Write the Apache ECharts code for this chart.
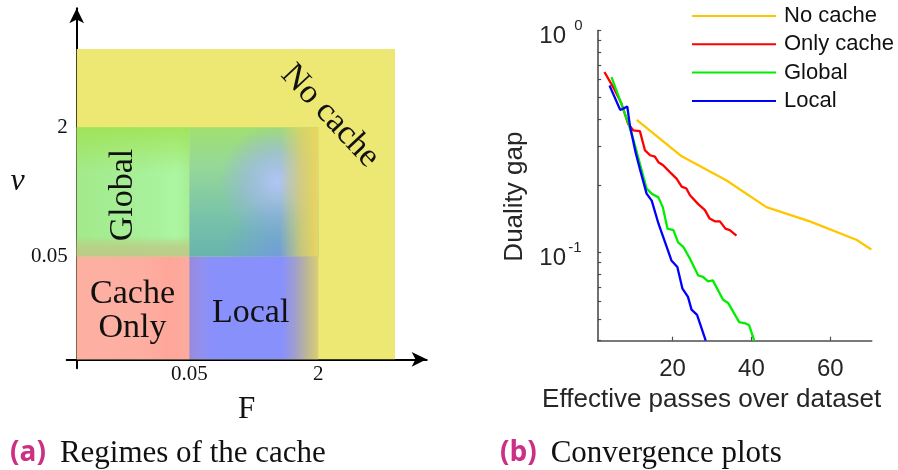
<!DOCTYPE html>
<html><head><meta charset="utf-8">
<script src="https://cdn.jsdelivr.net/npm/echarts@6/dist/echarts.min.js"></script>
<style>html,body{margin:0;padding:0;background:#fff}#c{width:898px;height:470px}</style>
</head><body><div id="c"></div>
<script>
// ---------- panel (a): regimes of the cache (schematic units) ----------
const regionNames = ['No cache', 'Global', 'Global+Local', 'Cache Only', 'Local'];
const regionF  = [[0, 318.3], [0, 112.6], [112.6, 241.6], [0, 112.6], [112.6, 241.6]];
const regionNu = [[0, 310.3], [102.6, 232], [102.6, 232], [0, 102.6], [0, 102.6]];
const fTickPos = [112.6, 241.6];
const fTickLabels = ['0.05', '2'];
const nuTickPos = [102.6, 232];
const nuTickLabels = ['0.05', '2'];

// ---------- panel (b): convergence plots ----------
const seriesNames = ['No cache', 'Only cache', 'Global', 'Local'];
const noCacheGap = [[10.9,0.396],[22.3,0.271],[33.7,0.211],[43.8,0.160],[54.8,0.138],[66.6,0.114],[70.4,0.103]];
const onlyCacheGap = [[2.7,0.65],[5.0,0.553],[7.0,0.47],[8.7,0.38],[10.0,0.355],[11.7,0.352],[13.0,0.288],[14.3,0.274],[15.5,0.27],[16.4,0.255],[17.6,0.247],[19.3,0.23],[21.0,0.215],[22.3,0.198],[23.5,0.194],[24.4,0.181],[26.5,0.165],[28.2,0.155],[29.4,0.142],[30.7,0.138],[32.0,0.138],[33.4,0.128],[34.5,0.126],[36.2,0.119]];
const globalGap = [[4.5,0.616],[7.0,0.467],[8.7,0.386],[10.0,0.325],[11.7,0.251],[13.4,0.194],[14.7,0.184],[16.4,0.177],[17.5,0.16],[18.7,0.128],[20.2,0.126],[21.4,0.111],[22.7,0.106],[24.4,0.0937],[26.5,0.0787],[27.7,0.0775],[29.0,0.074],[30.2,0.0748],[32.8,0.0612],[34.1,0.0591],[36.9,0.0485],[38.7,0.0477],[39.4,0.047],[40.7,0.04]];
const localGap = [[4.0,0.565],[6.7,0.439],[7.3,0.443],[8.5,0.455],[9.2,0.37],[10.6,0.283],[11.7,0.238],[13.4,0.184],[14.7,0.171],[16.4,0.135],[18.5,0.106],[19.7,0.092],[21.2,0.0859],[22.5,0.0686],[23.9,0.063],[24.8,0.0552],[26.2,0.0523],[27.1,0.0469],[28.4,0.04]];
const seriesColors = ['#ffc600', '#ff0000', '#00ee00', '#0000ff'];
const xTickVals = [20, 40, 60];
const yLabelVals = [0.1, 1];
const yTickVals = [0.04,0.05,0.06,0.07,0.08,0.09,0.1,0.2,0.3,0.4,0.5,0.6,0.7,0.8,0.9,1];

// ---------- styles ----------
const lin = (x, y, x2, y2, stops) => ({type:'linear', x, y, x2, y2, global:false, colorStops: stops.map(s => ({offset:s[0], color:s[1]}))});
const rad = (x, y, r, stops) => ({type:'radial', x, y, r, global:false, colorStops: stops.map(s => ({offset:s[0], color:s[1]}))});
const serif = '"Liberation Serif", "Times New Roman", serif';
const sans = '"Liberation Sans", Arial, sans-serif';
const regionStyle = {
  'No cache': {
    layers: ['#ede874'],
    label: {text: 'No cache', fx: 0.796, fy: 0.784, rot: -47}
  },
  'Global': {
    layers: [
      lin(0,0,1,0, [[0,'#a2ea8a'],[0.6,'#a8f09a'],[0.88,'#acf6a2'],[1,'#a6ee96']]),
      lin(0,0,0,1, [[0,'rgba(160,226,80,0.85)'],[0.35,'rgba(160,226,80,0)'],[0.84,'rgba(184,204,130,0)'],[0.92,'rgba(186,206,134,0.85)'],[1,'rgba(190,200,136,0.95)']])
    ],
    label: {text: 'Global', fx: 0.414, fy: 0.477, rot: 90}
  },
  'Global+Local': {
    layers: [
      lin(0,0,0,1, [[0,'#a0e070'],[0.3,'#96d898'],[0.7,'#78c2aa'],[1,'#68b4ac']]),
      rad(0.68, 0.42, 0.45, [[0,'rgba(180,196,250,0.95)'],[0.5,'rgba(160,180,240,0.6)'],[1,'rgba(150,170,230,0)']]),
      rad(0.7, 1.0, 0.45, [[0,'rgba(118,148,240,0.7)'],[1,'rgba(118,148,240,0)']]),
      lin(0,0,1,0, [[0,'rgba(232,212,100,0)'],[0.7,'rgba(232,212,100,0)'],[0.87,'rgba(230,208,100,0.75)'],[1,'rgba(234,214,96,1)']])
    ]
  },
  'Cache Only': {
    layers: [lin(0,0,1,0, [[0,'#fdb0a2'],[0.6,'#fdaea0'],[0.82,'#fea69a'],[1,'#fdab9f']])],
    label: {text: 'Cache\nOnly', fx: 0.496, fy: 0.466, rot: 0}
  },
  'Local': {
    layers: [lin(0,0,1,0, [[0,'#9a88da'],[0.08,'#9290ee'],[0.18,'#8890fc'],[0.72,'#8890fc'],[0.82,'#a09ecc'],[0.91,'#bcb698'],[1,'#d8ce76']])],
    label: {text: 'Local', fx: 0.476, fy: 0.448, rot: 0}
  }
};

function renderRegion(params, api) {
  const name = regionNames[params.dataIndex];
  const st = regionStyle[name];
  const p0 = api.coord([api.value(0), api.value(3)]);
  const p1 = api.coord([api.value(1), api.value(2)]);
  const w = p1[0] - p0[0], h = p1[1] - p0[1];
  const children = st.layers.map(f => ({type:'rect', shape:{x:p0[0], y:p0[1], width:w, height:h}, style:{fill:f}, z2: params.dataIndex}));
  if (st.label) {
    children.push({
      type:'text', x: p0[0] + w * st.label.fx, y: p0[1] + h * (1 - st.label.fy),
      rotation: st.label.rot * Math.PI / 180, z2: 100,
      style:{text: st.label.text, font: '34px ' + serif, fill:'#111', align:'center', verticalAlign:'middle', lineHeight: 34}
    });
  }
  return {type:'group', children};
}

const nearestLabel = (pos, labels, v) => {
  let bi = 0;
  pos.forEach((p, i) => { if (Math.abs(p - v) < Math.abs(pos[bi] - v)) bi = i; });
  return labels[bi];
};

const chart = echarts.init(document.getElementById('c'), null, {renderer:'canvas'});
const lineData = [noCacheGap, onlyCacheGap, globalGap, localGap];
const capRich = {a: {fontFamily: '"Open Sans", sans-serif', fontWeight: 'bold', fontSize: 28, color: '#cc2f86', padding: [0, 14, 0, 0]},
                 t: {fontFamily: serif, fontWeight: 'normal', fontSize: 31, color: '#111'}};
const logAxisBase = {gridIndex: 1, type: 'log', logBase: 10, min: 0.04, max: 1, splitLine: {show: false}, minorTick: {show: false}};

const option = {
  animation: false,
  backgroundColor: '#fff',
  title: [
    {text: '{a|(a)}{t|Regimes of the cache}', left: 10, top: 438, padding: 0, textStyle: {fontWeight: 'normal', rich: capRich}},
    {text: '{a|(b)}{t|Convergence plots}', left: 500, top: 438, padding: 0, textStyle: {fontWeight: 'normal', rich: capRich}}
  ],
  legend: {
    data: seriesNames, orient: 'vertical', left: 691, top: 5, padding: 0, itemWidth: 84, itemHeight: 12, itemGap: 6.3,
    itemStyle: {opacity: 0},
    textStyle: {fontFamily: sans, fontSize: 22, color: '#111', lineHeight: 22, padding: [0, 0, 0, 3]},
    selectedMode: false
  },
  grid: [
    {left: 66.7, top: 8.3, width: 360, height: 360},
    {left: 597.7, top: 30.5, width: 274, height: 310.2}
  ],
  xAxis: [
    {gridIndex: 0, type: 'value', min: -10, max: 350,
     axisLine: {onZero: true, symbol: ['none', 'arrow'], symbolSize: [11, 15], lineStyle: {color: '#000', width: 2}},
     axisTick: {show: false}, splitLine: {show: false},
     axisLabel: {customValues: fTickPos, formatter: v => nearestLabel(fTickPos, fTickLabels, v), fontFamily: serif, fontSize: 21, color: '#111', margin: -4},
     name: 'F', nameLocation: 'middle', nameGap: 26, nameTextStyle: {fontFamily: serif, fontSize: 31, color: '#111'}},
    {gridIndex: 1, type: 'value', min: 1, max: 70.5,
     axisLine: {onZero: false, lineStyle: {color: '#4d4d4d', width: 1.6}},
     axisTick: {customValues: xTickVals, inside: true, length: 4, lineStyle: {color: '#4d4d4d', width: 1.2}},
     splitLine: {show: false},
     axisLabel: {customValues: xTickVals, fontFamily: sans, fontSize: 24, color: '#262626', margin: 17},
     name: 'Effective passes over dataset', nameLocation: 'middle', nameGap: 46,
     nameTextStyle: {fontFamily: sans, fontSize: 26, color: '#262626', padding: [0, 46, 0, 0]}}
  ],
  yAxis: [
    {gridIndex: 0, type: 'value', min: -9, max: 351,
     axisLine: {onZero: true, symbol: ['none', 'arrow'], symbolSize: [11, 15], lineStyle: {color: '#000', width: 2}},
     axisTick: {show: false}, splitLine: {show: false},
     axisLabel: {customValues: nuTickPos, formatter: v => nearestLabel(nuTickPos, nuTickLabels, v), fontFamily: serif, fontSize: 21, color: '#111', margin: -1},
     name: 'ν', nameLocation: 'middle', nameRotate: 0, nameGap: 42,
     nameTextStyle: {fontFamily: serif, fontStyle: 'italic', fontSize: 32, color: '#111', verticalAlign: 'bottom', lineHeight: 14}},
    Object.assign({}, logAxisBase, {
     axisLine: {onZero: false, lineStyle: {color: '#4d4d4d', width: 1.6}},
     axisTick: {customValues: yTickVals, inside: true, length: 3.5, lineStyle: {color: '#4d4d4d', width: 1.2}},
     axisLabel: {customValues: yLabelVals, margin: 31.7, align: 'right', verticalAlign: 'top', padding: [-6, 0, 0, 0],
       fontFamily: sans, fontSize: 24, color: '#262626', formatter: () => '10'},
     name: 'Duality gap', nameLocation: 'middle', nameGap: 70,
     nameTextStyle: {fontFamily: sans, fontSize: 26, color: '#262626', padding: [0, 22, 0, 0]}}),
    Object.assign({}, logAxisBase, {
     position: 'left', axisLine: {show: false, onZero: false}, axisTick: {show: false},
     axisLabel: {customValues: yLabelVals, margin: 29.5, align: 'left', verticalAlign: 'bottom', padding: [0, 0, -3, 0],
       fontFamily: sans, fontSize: 15, color: '#262626',
       formatter: v => { const e = Math.round(Math.log10(v)); return e === 0 ? '\u2009\u20090' : String(e); }}})
  ],
  series: [
    {type: 'custom', xAxisIndex: 0, yAxisIndex: 0, renderItem: renderRegion, silent: true,
     encode: {x: [0, 1], y: [2, 3]},
     data: regionNames.map((n, i) => [regionF[i][0], regionF[i][1], regionNu[i][0], regionNu[i][1]])}
  ].concat(seriesNames.map((n, i) => ({
    type: 'line', name: n, xAxisIndex: 1, yAxisIndex: 1, data: lineData[i],
    symbol: 'none', showSymbol: false, color: seriesColors[i],
    lineStyle: {width: 2.3, color: seriesColors[i]}, emphasis: {disabled: true}
  })))
};
chart.setOption(option);
</script></body></html>
